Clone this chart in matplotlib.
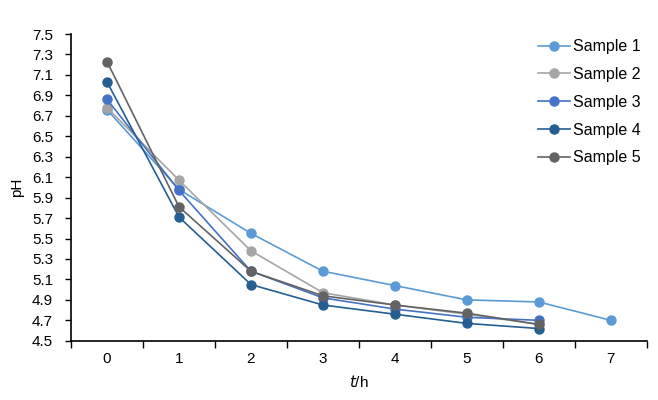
import matplotlib
matplotlib.use('Agg')
import matplotlib.pyplot as plt

plt.rcParams['font.family'] = ['Liberation Sans', 'DejaVu Sans']

# pH readings over time for five samples
hours_1 = [0, 1, 2, 3, 4, 5, 6, 7]
hours = [0, 1, 2, 3, 4, 5, 6]
sample_1 = [6.76, 5.98, 5.55, 5.18, 5.04, 4.90, 4.88, 4.70]
sample_2 = [6.78, 6.07, 5.38, 4.97, 4.85, 4.76, 4.66]
sample_3 = [6.86, 5.97, 5.18, 4.92, 4.81, 4.73, 4.70]
sample_4 = [7.03, 5.71, 5.05, 4.85, 4.76, 4.67, 4.62]
sample_5 = [7.23, 5.81, 5.18, 4.94, 4.85, 4.77, 4.66]

series = [
    ('Sample 1', hours_1, sample_1, '#5B9BD5'),
    ('Sample 2', hours, sample_2, '#A5A5A5'),
    ('Sample 3', hours, sample_3, '#4472C4'),
    ('Sample 4', hours, sample_4, '#255E91'),
    ('Sample 5', hours, sample_5, '#636363'),
]

fig = plt.figure(figsize=(6.58, 4.0), dpi=100)
ax = fig.add_axes([0.108, 0.148, 0.875, 0.767])

for name, x, y, c in series:
    ax.plot(x, y, color=c, marker='o', markersize=6.5, linewidth=1.2, label=name)

ax.set_xlim(-0.5, 7.5)
ax.set_ylim(4.5, 7.5)
ax.set_yticks([4.5 + 0.2 * i for i in range(16)])
ax.set_yticklabels([f'{4.5 + 0.2 * i:.1f}' for i in range(16)])
ax.set_xticks(range(8))
ax.set_xticks([i - 0.5 for i in range(9)], minor=True)
ax.tick_params(axis='x', which='major', length=0, pad=8, labelsize=11)
ax.tick_params(axis='x', which='minor', length=5, direction='out', width=1)
ax.tick_params(axis='y', length=4, direction='out', width=1, labelsize=11, pad=9)

for s in ['top', 'right']:
    ax.spines[s].set_visible(False)
for s in ['left', 'bottom']:
    ax.spines[s].set_linewidth(1.2)
    ax.spines[s].set_color('black')

ax.set_ylabel('pH', fontsize=11, labelpad=6)
ax.set_xlabel('$\\mathit{t}$/h', fontsize=11, labelpad=6)

ax.legend(loc='upper right', bbox_to_anchor=(1.015, 1.03), frameon=False,
          fontsize=11.5, handlelength=2.0, handletextpad=0.2, labelspacing=0.8)

plt.savefig('out.png', dpi=100)
